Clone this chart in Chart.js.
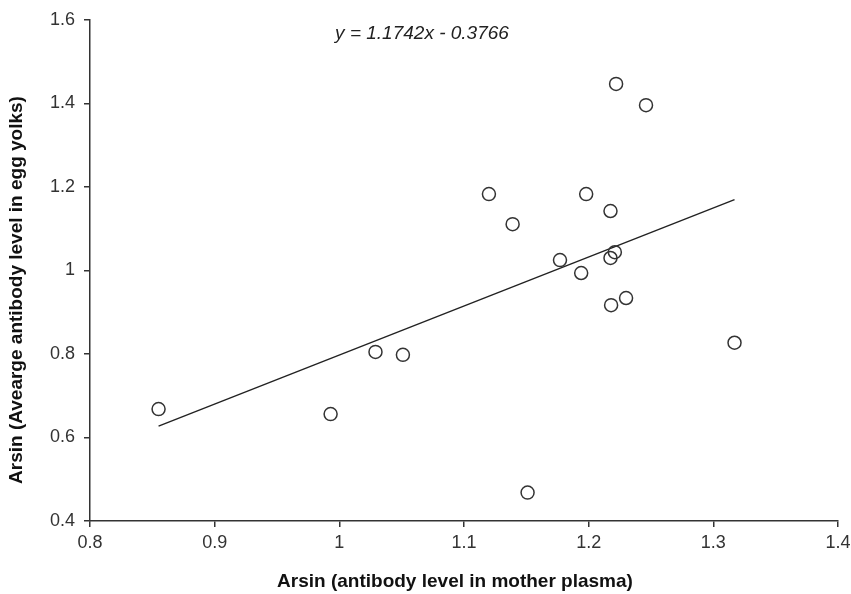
<!DOCTYPE html>
<html>
<head>
<meta charset="utf-8">
<script src="https://cdn.jsdelivr.net/npm/chart.js@4"></script>
<style>
html,body{margin:0;padding:0;background:#fff;}
#wrap{width:851px;height:594px;}
</style>
</head>
<body>
<div id="wrap"><canvas id="c" width="851" height="594"></canvas></div>
<script>
// Data
const plasmaX = [0.855, 0.993, 1.029, 1.051, 1.151, 1.120, 1.139, 1.177, 1.198, 1.194, 1.2175, 1.221, 1.2175, 1.218, 1.230, 1.222, 1.246, 1.317];
const yolkY   = [0.668, 0.656, 0.805, 0.798, 0.468, 1.183, 1.111, 1.025, 1.183, 0.994, 1.1425, 1.044, 1.030, 0.917, 0.934, 1.447, 1.396, 0.827];
const slope = 1.1742;
const intercept = -0.3766;
const equationText = 'y = 1.1742x - 0.3766';
const xTickValues = [0.8, 0.9, 1.0, 1.1, 1.2, 1.3, 1.4];
const xTickLabels = ['0.8', '0.9', '1', '1.1', '1.2', '1.3', '1.4'];
const yTickValues = [0.4, 0.6, 0.8, 1.0, 1.2, 1.4, 1.6];
const yTickLabels = ['0.4', '0.6', '0.8', '1', '1.2', '1.4', '1.6'];
const xTitle = 'Arsin (antibody level in mother plasma)';
const yTitle = 'Arsin (Avearge antibody level in egg yolks)';

const points = plasmaX.map((x, i) => ({x: x, y: yolkY[i]}));
const xMin = Math.min(...plasmaX), xMax = Math.max(...plasmaX);
const trend = [xMin, xMax].map(x => ({x: x, y: slope * x + intercept}));

const textPlugin = {
  id: 'textPlugin',
  afterDraw(chart) {
    const ctx = chart.ctx;
    ctx.save();
    ctx.fillStyle = '#222';
    ctx.textAlign = 'center';
    ctx.textBaseline = 'alphabetic';
    ctx.font = 'italic 19px "Liberation Sans", Arial, sans-serif';
    ctx.fillText(equationText, 422, 39);
    ctx.fillStyle = '#111';
    ctx.font = 'bold 19px "Liberation Sans", Arial, sans-serif';
    ctx.fillText(xTitle, 455, 587);
    ctx.translate(22, 290);
    ctx.rotate(-Math.PI / 2);
    ctx.fillText(yTitle, 0, 0);
    ctx.restore();
  }
};

new Chart(document.getElementById('c'), {
  type: 'scatter',
  data: {
    datasets: [
      {
        type: 'line',
        data: trend,
        borderColor: '#222',
        borderWidth: 1.4,
        pointRadius: 0,
        fill: false,
        tension: 0,
        order: 2
      },
      {
        data: points,
        pointRadius: 6.5,
        pointBorderWidth: 1.5,
        pointBorderColor: '#333',
        pointBackgroundColor: 'rgba(255,255,255,0)',
        order: 1
      }
    ]
  },
  options: {
    responsive: false,
    animation: false,
    events: [],
    layout: {padding: {top: 20, right: 13, left: 0, bottom: 0}},
    plugins: {legend: {display: false}, tooltip: {enabled: false}},
    scales: {
      x: {
        type: 'linear',
        min: 0.8, max: 1.4,
        afterBuildTicks(scale) { scale.ticks = xTickValues.map(v => ({value: v})); },
        afterFit(scale) { scale.height = 73; scale.paddingLeft = 0; scale.paddingRight = 0; },
        ticks: {
          callback: (v, i) => xTickLabels[i],
          color: '#333',
          font: {family: '"Liberation Sans", Arial, sans-serif', size: 18},
          padding: 5,
          maxRotation: 0
        },
        grid: {display: true, drawOnChartArea: false, drawTicks: true, tickLength: 6, color: '#333', lineWidth: 1.5},
        border: {display: true, color: '#333', width: 1.5}
      },
      y: {
        type: 'linear',
        min: 0.4, max: 1.6,
        afterBuildTicks(scale) { scale.ticks = yTickValues.map(v => ({value: v})); },
        afterFit(scale) { scale.width = 90; scale.paddingTop = 0; scale.paddingBottom = 0; },
        ticks: {
          callback: (v, i) => yTickLabels[i],
          color: '#333',
          font: {family: '"Liberation Sans", Arial, sans-serif', size: 18},
          padding: 9
        },
        grid: {display: true, drawOnChartArea: false, drawTicks: true, tickLength: 6, color: '#333', lineWidth: 1.5},
        border: {display: true, color: '#333', width: 1.5}
      }
    }
  },
  plugins: [textPlugin]
});
</script>
</body>
</html>
